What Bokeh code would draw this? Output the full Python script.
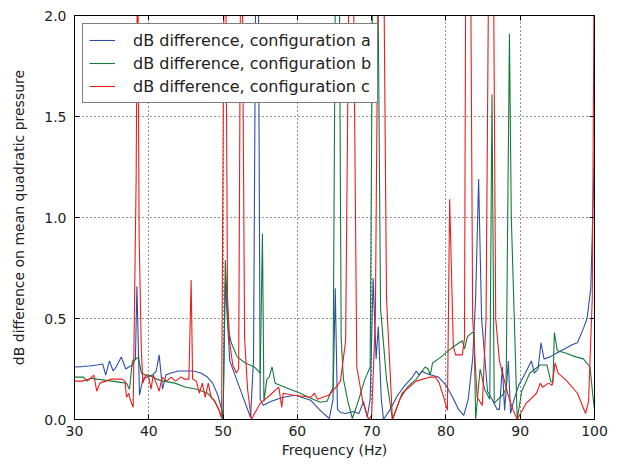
from bokeh.plotting import figure
from bokeh.models import (Range1d, LinearAxis, FixedTicker, Legend, LegendItem,
                          CustomJSTickFormatter, PrintfTickFormatter)
from bokeh.embed import file_html
from bokeh.resources import INLINE

# ---- data ----
freq_a = [30, 31, 32, 33, 33.8, 34.2, 34.7, 35.2, 35.6, 36.3, 36.9, 37.3, 37.8, 38.2, 38.4,
          38.75, 39.2, 39.8, 40.5, 41.0, 41.4, 41.85, 42.3, 43, 44, 45, 46, 47, 47.9, 48.6,
          49.3, 49.8, 50.0, 50.3, 50.9, 52.0, 53.0, 53.7, 54.1, 54.6, 55.0, 55.4, 56.5, 58.1,
          59.7, 61.8, 63.2, 64.3, 64.8, 65.1, 65.4, 65.8, 66.5, 67.5, 68.3, 68.9, 69.4, 69.8,
          70.2, 70.6, 70.9, 71.3, 71.6, 72.5, 73.5, 74.5, 75.5, 76.0, 76.4, 76.8, 77.2, 78.0,
          79.0, 80.0, 80.9, 81.7, 82.4, 83.0, 83.6, 84.0, 84.4, 84.8, 85.6, 86.2, 86.9, 87.2,
          87.6, 87.9, 88.4, 88.7, 89.1, 89.8, 90.7, 91.5, 91.9, 92.4, 92.8, 93.2, 94, 95, 96,
          97, 97.7, 98.5, 99.0, 99.5, 100]
db_a = [0.26, 0.262, 0.265, 0.27, 0.275, 0.22, 0.29, 0.24, 0.26, 0.31, 0.25, 0.26, 0.27, 0.30, 0.66,
        0.12, 0.20, 0.21, 0.22, 0.24, 0.32, 0.15, 0.22, 0.23, 0.24, 0.24, 0.24, 0.23, 0.21, 0.18,
        0.12, 0.05, 0.01, 0.68, 0.29, 0.18, 0.08, 0.01, 0.30, 3.5, 0.10, 0.07, 0.09, 0.11,
        0.12, 0.095, 0.04, 0.005, 0.10, 0.65, 0.05, 0.035, 0.03, 0.04, 0.03, 0.09, 0.01, 0.10,
        0.70, 0.30, 0.46, 0.10, 0.0, 0.05, 0.12, 0.17, 0.21, 0.24, 0.22, 0.24, 0.23, 0.22,
        0.21, 0.17, 0.11, 0.05, 0.02, 0.10, 0.30, 0.60, 1.19, 0.50, 0.14, 0.10, 0.05, 0.05,
        0.26, 0.045, 0.29, 0.03, 0.09, 0.17, 0.23, 0.29, 0.23, 0.25, 0.38, 0.30, 0.31, 0.33, 0.35,
        0.37, 0.38, 0.45, 0.50, 0.65, 1.33]

freq_b = [30, 31, 31.2, 31.7, 32.2, 33, 34, 35, 36, 37.0, 37.4, 37.8, 38.3, 38.6, 39.0, 39.5,
          40, 41, 42, 43.5, 45, 46.5, 47.9, 48.7, 49.3, 49.8, 50.0, 50.3, 50.7, 51.1, 51.9,
          53.0, 54.2, 55.0, 55.3, 55.5, 55.9, 56.2, 56.6, 57.0, 58, 59, 60.4, 61.8, 63.1, 64.0,
          64.8, 65.4, 65.9, 66.2, 66.8, 67.4, 68.2, 69.0, 69.8, 70.45, 71.2, 72.0, 72.8, 73.8,
          74.8, 76.0, 77.2, 77.6, 77.9, 78.2, 79, 80, 81, 82.2, 82.5, 82.9, 83.5, 83.8, 84.0,
          84.6, 85.2, 85.9, 86.2, 86.5, 87.0, 87.6, 88.1, 88.55, 88.8, 89.6, 90.2, 91.3, 92.7,
          93.6, 94.1, 94.4, 94.6, 95.0, 96.0, 97.5, 98.5, 99.4, 99.8, 100]
db_b = [0.21, 0.21, 0.21, 0.19, 0.205, 0.20, 0.195, 0.19, 0.185, 0.18, 0.15, 0.29, 0.30, 0.31, 0.23, 0.22,
        0.22, 0.20, 0.19, 0.18, 0.16, 0.15, 0.13, 0.10, 0.06, 0.01, 0.0, 0.79, 0.45, 0.38, 0.31,
        0.28, 0.26, 0.23, 0.92, 0.09, 0.20, 0.21, 0.26, 0.18, 0.165, 0.15, 0.13, 0.105, 0.085, 0.09,
        0.16, 4.0, 0.40, 0.20, 0.09, 0.005, 0.09, 0.19, 0.26, 4.0, 0.55, 0.20, 0.0, 0.10,
        0.16, 0.20, 0.26, 0.25, 0.22, 0.28, 0.30, 0.33, 0.36, 0.39, 0.35, 0.41, 0.43, 0.43, 0.0,
        0.25, 0.15, 0.10, 1.61, 0.08, 0.10, 0.12, 0.15, 1.91, 1.0, 0.0, 0.14, 0.23, 0.27,
        0.27, 0.19, 0.18, 0.43, 0.34, 0.33, 0.31, 0.30, 0.26, 0.11, 0.05]

freq_c = [30, 31, 32, 32.6, 33.0, 33.4, 34.2, 35, 36.3, 36.8, 37.0, 37.3, 37.5, 37.9, 38.3, 38.5,
          38.7, 39.0, 39.2, 39.6, 40.0, 40.3, 40.6, 41.0, 41.4, 41.8, 42.4, 43.0, 43.6, 44.3,
          44.8, 45.4, 45.7, 45.9, 46.4, 46.8, 47.2, 47.6, 48.0, 48.4, 48.9, 49.4, 49.8, 50.25,
          50.6, 50.9, 51.3, 51.8, 52.1, 52.45, 52.9, 53.3, 53.8, 55.0, 56.3, 57.5, 57.9, 58.1,
          59.5, 61.8, 62.3, 62.7, 64.2, 65.0, 65.8, 66.5, 67.25, 68.0, 68.8, 69.6, 70.0, 70.5,
          71.25, 72.0, 72.8, 74.1, 76.0, 77.9, 78.6, 79.1, 79.7, 80.2, 80.5, 81.0, 81.3, 82.2,
          82.5, 82.9, 83.6, 84.2, 84.9, 85.4, 86.1, 86.7, 87.2, 88.3, 89.0, 89.6, 90.8, 92.2,
          92.7, 93.0, 93.8, 94.3, 94.7, 95.1, 96.3, 97.7, 98.8, 99.2, 99.7, 100]
db_c = [0.19, 0.19, 0.20, 0.22, 0.14, 0.18, 0.19, 0.20, 0.20, 0.19, 0.11, 0.13, 0.10, 0.06, 1.2, 2.5,
        0.9, 0.34, 0.18, 0.22, 0.21, 0.15, 0.22, 0.18, 0.14, 0.21, 0.19, 0.21, 0.19, 0.21,
        0.20, 0.20, 0.69, 0.20, 0.19, 0.13, 0.18, 0.11, 0.18, 0.11, 0.09, 0.05, 0.01, 3.0,
        0.6, 0.38, 0.27, 0.23, 0.25, 3.0, 0.40, 0.15, 0.0, 0.08, 0.12, 0.16, 0.06, 0.13,
        0.12, 0.11, 0.13, 0.10, 0.12, 0.15, 0.19, 0.39, 3.5, 0.26, 0.09, 0.0, 0.02, 0.50,
        4.0, 0.60, 0.0, 0.13, 0.19, 0.21, 0.21, 0.18, 0.11, 0.045, 1.09, 0.36, 0.32, 0.32,
        0.40, 5.0, 0.50, 0.11, 0.07, 0.50, 4.0, 0.50, 0.29, 0.13, 0.05, 0.0, 0.08, 0.13,
        0.18, 0.16, 0.18, 0.17, 0.28, 0.23, 0.19, 0.13, 0.03, 0.09, 0.60, 2.5]

x_ticks = [30, 40, 50, 60, 70, 80, 90, 100]
y_ticks = [0.0, 0.5, 1.0, 1.5, 2.0]
labels = ["dB difference, configuration a", "dB difference, configuration b",
          "dB difference, configuration c"]
colors = ["#2d4ea8", "#137a3c", "#ee1c1c"]

FONT = "DejaVu Sans"

p = figure(width=617, height=465, x_range=Range1d(30, 100), y_range=Range1d(0, 2),
           output_backend="svg", toolbar_location=None,
           min_border_left=74, min_border_right=23, min_border_top=15, min_border_bottom=46)
p.background_fill_color = "white"
p.border_fill_color = "white"
p.outline_line_color = "black"
p.outline_line_width = 1

def style_axis(ax, show_labels=True):
    ax.major_tick_in = 5
    ax.major_tick_out = 0
    ax.minor_tick_line_color = None
    ax.axis_line_color = "black"
    ax.major_tick_line_color = "black"
    ax.major_label_text_font = FONT
    ax.major_label_text_font_size = "14px"
    ax.major_label_text_color = "#222222"
    ax.axis_label_text_font = FONT
    ax.axis_label_text_font_size = "14px"
    ax.axis_label_text_font_style = "normal"
    ax.axis_label_text_color = "#222222"

p.xaxis.ticker = FixedTicker(ticks=x_ticks)
p.yaxis.ticker = FixedTicker(ticks=y_ticks)
p.yaxis.formatter = PrintfTickFormatter(format="%.1f")
p.xaxis.axis_label = "Frequency (Hz)"
p.yaxis.axis_label = "dB difference on mean quadratic pressure"
style_axis(p.xaxis[0])
style_axis(p.yaxis[0])
p.xaxis.major_label_standoff = 6
p.yaxis.major_label_standoff = 8
p.xaxis.axis_label_standoff = 3
p.yaxis.axis_label_standoff = 14

empty = CustomJSTickFormatter(code="return ''")
top = LinearAxis(ticker=FixedTicker(ticks=x_ticks), formatter=empty)
right = LinearAxis(ticker=FixedTicker(ticks=y_ticks), formatter=empty)
for ax in (top, right):
    style_axis(ax)
    ax.major_label_standoff = 0
p.add_layout(top, "above")
p.add_layout(right, "right")

for g in (p.xgrid[0], p.ygrid[0]):
    g.grid_line_color = "black"
    g.grid_line_dash = "1 3"
    g.grid_line_width = 1
    g.grid_line_alpha = 0.85
p.xgrid.ticker = FixedTicker(ticks=x_ticks)
p.ygrid.ticker = FixedTicker(ticks=y_ticks)

r_a = p.line(freq_a, db_a, line_color=colors[0], line_width=1.1)
r_b = p.line(freq_b, db_b, line_color=colors[1], line_width=1.1)
r_c = p.line(freq_c, db_c, line_color=colors[2], line_width=1.1)

legend = Legend(items=[LegendItem(label=labels[0], renderers=[r_a]),
                       LegendItem(label=labels[1], renderers=[r_b]),
                       LegendItem(label=labels[2], renderers=[r_c])],
                location="top_left", margin=8, padding=6, spacing=3,
                glyph_width=26, glyph_height=20, label_height=20, label_standoff=18,
                label_text_font=FONT, label_text_font_size="16px", label_text_color="#222222",
                border_line_color="black", border_line_width=1,
                background_fill_color="white", background_fill_alpha=1)
p.add_layout(legend)

open("out.html", "w").write(file_html(p, INLINE))
